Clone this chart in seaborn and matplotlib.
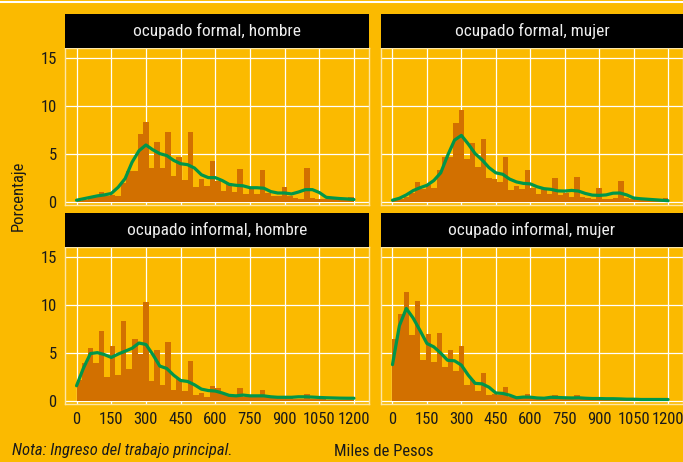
import numpy as np
import pandas as pd
import matplotlib
matplotlib.use("Agg")
import matplotlib.pyplot as plt
import seaborn as sns
from matplotlib.patches import Rectangle
from matplotlib.lines import Line2D

# bins of 24 mil pesos, 0..1200
bin_edges = list(range(0, 1201, 24))
bin_centers = [e + 12 for e in bin_edges[:-1]]

formal_hombre = [0.1, 0.2, 0.4, 0.55, 1.0, 0.55, 0.7, 0.6, 1.9, 3.2,
                 3.2, 7.0, 8.3, 3.5, 6.25, 3.5, 7.3, 2.7, 4.6, 2.3,
                 7.3, 1.5, 2.4, 1.6, 4.2, 2.2, 1.15, 1.9, 1.0, 3.4,
                 0.8, 1.3, 0.8, 3.3, 0.9, 0.55, 0.55, 1.5, 0.55, 0.4,
                 0.3, 3.5, 0.4, 0.3, 0.3, 0.3, 0.25, 0.2, 0.2, 0.5]
formal_mujer = [0.15, 0.3, 0.5, 0.9, 2.0, 1.3, 1.7, 1.45, 3.3, 4.7,
                4.65, 8.2, 9.5, 4.4, 6.1, 3.6, 6.5, 2.5, 2.4, 2.0,
                4.7, 1.2, 1.6, 1.3, 3.3, 1.4, 0.75, 1.3, 0.75, 2.5,
                0.7, 0.9, 0.5, 2.6, 0.5, 0.4, 0.3, 1.4, 0.3, 0.3,
                0.35, 2.2, 0.35, 0.3, 0.25, 0.2, 0.2, 0.2, 0.2, 0.35]
informal_hombre = [2.1, 3.9, 5.5, 3.9, 7.3, 2.5, 5.7, 2.7, 8.3, 3.3,
                   6.45, 4.9, 10.3, 2.05, 5.3, 1.65, 6.1, 1.15, 2.25, 1.05,
                   4.15, 0.6, 0.75, 0.35, 1.55, 1.35, 0.7, 0.6, 0.4, 1.35,
                   0.35, 0.35, 0.4, 1.15, 0.35, 0.3, 0.3, 0.5, 0.25, 0.2,
                   0.2, 0.7, 0.2, 0.15, 0.15, 0.1, 0.1, 0.1, 0.1, 0.1]
informal_mujer = [6.45, 9.05, 11.3, 6.8, 10.35, 4.2, 6.9, 4.0, 7.0, 3.5,
                  5.25, 3.05, 5.65, 1.6, 2.2, 0.97, 2.85, 0.62, 0.73, 0.55,
                  1.4, 0.38, 0.28, 0.25, 0.73, 0.3, 0.3, 0.25, 0.25, 0.62,
                  0.2, 0.2, 0.2, 0.62, 0.15, 0.15, 0.15, 0.25, 0.1, 0.1,
                  0.1, 0.2, 0.1, 0.08, 0.08, 0.08, 0.08, 0.08, 0.08, 0.08]

# smoothed density line, read every 30 mil pesos
line_x = list(range(0, 1201, 30))
dens_formal_hombre = [0.15, 0.3, 0.45, 0.6, 0.7, 0.85, 1.5, 2.4, 4.1, 5.3,
                      5.9, 5.4, 5.0, 4.8, 4.3, 3.95, 3.85, 3.5, 2.8, 2.5,
                      2.5, 2.2, 1.8, 1.7, 1.65, 1.45, 1.45, 1.4, 1.05, 0.9,
                      0.9, 0.8, 1.0, 1.25, 1.25, 0.95, 0.45, 0.38, 0.32, 0.28, 0.22]
dens_formal_mujer = [0.15, 0.35, 0.7, 1.15, 1.45, 1.7, 2.2, 3.0, 4.8, 6.4,
                     6.9, 6.0, 5.0, 4.35, 3.55, 3.0, 2.85, 2.35, 2.05, 1.9,
                     1.85, 1.55, 1.35, 1.28, 1.12, 1.1, 1.17, 1.1, 0.85, 0.68,
                     0.65, 0.7, 0.88, 0.9, 0.7, 0.38, 0.3, 0.25, 0.2, 0.15, 0.1]
dens_informal_hombre = [1.55, 3.4, 4.9, 5.0, 4.8, 4.5, 4.85, 5.15, 5.45, 6.0,
                        5.85, 4.8, 3.6, 3.35, 2.65, 2.1, 2.0, 1.65, 1.2, 1.05,
                        1.0, 0.8, 0.55, 0.5, 0.58, 0.5, 0.5, 0.5, 0.4, 0.35,
                        0.35, 0.35, 0.4, 0.4, 0.37, 0.33, 0.3, 0.28, 0.26, 0.25, 0.25]
dens_informal_mujer = [3.75, 7.8, 9.6, 8.6, 7.3, 5.95, 5.6, 4.95, 4.2, 4.15,
                       3.7, 2.65, 1.8, 1.75, 1.4, 0.8, 0.75, 0.57, 0.3, 0.37,
                       0.36, 0.28, 0.25, 0.35, 0.33, 0.3, 0.28, 0.3, 0.25, 0.22,
                       0.22, 0.2, 0.2, 0.18, 0.15, 0.15, 0.12, 0.12, 0.12, 0.12, 0.12]

titles = ["ocupado formal, hombre", "ocupado formal, mujer",
          "ocupado informal, hombre", "ocupado informal, mujer"]
bars = [formal_hombre, formal_mujer, informal_hombre, informal_mujer]
dens = [dens_formal_hombre, dens_formal_mujer, dens_informal_hombre, dens_informal_mujer]
x_ticks = list(range(0, 1201, 150))
y_ticks = [0, 5, 10, 15]

bg = "#FBBA00"
bar_col = "#D27000"
green = "#00964A"

sns.set_style("white")
plt.rcParams["font.family"] = ["Roboto Condensed", "Liberation Sans Narrow",
                               "Archivo Narrow", "PT Sans Narrow",
                               "Fira Sans Condensed", "Barlow Condensed",
                               "IBM Plex Sans Condensed", "Asap Condensed",
                               "Encode Sans Condensed", "DejaVu Sans"]

W, H = 683, 462
fig = plt.figure(figsize=(W / 100, H / 100), dpi=100, facecolor=bg)

# panel rectangles in pixels: x0, x1, y_top, y_bottom
cols = [(65, 369), (381, 683)]
rows = [(48, 205), (247, 404)]
strip_h = 34

for i in range(4):
    r, c = divmod(i, 2)
    x0, x1 = cols[c]
    yt, yb = rows[r]
    ax = fig.add_axes([x0 / W, (H - yb) / H, (x1 - x0) / W, (yb - yt) / H])
    ax.set_facecolor(bg)
    ax.set_axisbelow(True)
    ax.grid(True, color="white", lw=0.9)

    sns.histplot(x=bin_centers, weights=bars[i], bins=bin_edges, ax=ax,
                 color=bar_col, alpha=1, linewidth=0, edgecolor=None)
    sns.lineplot(x=line_x, y=dens[i], ax=ax, color=green, lw=2.3)

    ax.set_xlim(-50, 1265)
    ax.set_ylim(-0.35, 16)
    ax.set_xticks(x_ticks)
    ax.set_yticks(y_ticks)
    ax.set_xlabel("")
    ax.set_ylabel("")
    for s in ax.spines.values():
        s.set_color("#FDE6A6")
        s.set_linewidth(1)
    ax.tick_params(axis="both", length=4, color="#333333", labelsize=12,
                   labelcolor="#1a1a1a", pad=2)
    if r == 0:
        ax.tick_params(axis="x", length=0, labelbottom=False)
    if c == 1:
        ax.tick_params(axis="y", length=0, labelleft=False)

    # black strip with facet label
    fig.patches.append(Rectangle((x0 / W, (H - yt) / H), (x1 - x0) / W, strip_h / H,
                                 transform=fig.transFigure, facecolor="black",
                                 edgecolor="none"))
    fig.text((x0 + x1) / 2 / W, (H - yt + strip_h / 2) / H, titles[i],
             ha="center", va="center", color="#EEEEEE", fontsize=12.5)

fig.lines.append(Line2D([0, 1], [1 - 1.5 / H, 1 - 1.5 / H], transform=fig.transFigure,
                        color="white", lw=1.5))
fig.text(18 / W, (H - 196) / H, "Porcentaje", rotation=90, ha="center", va="center",
         fontsize=12, color="#1a1a1a")
fig.text(384 / W, (H - 451) / H, "Miles de Pesos", ha="center", va="center",
         fontsize=12, color="#1a1a1a")
fig.text(12 / W, (H - 451) / H, "Nota: Ingreso del trabajo principal.", ha="left",
         va="center", fontsize=12, style="italic", color="#1a1a1a")

fig.savefig("out.png", dpi=100, facecolor=bg)
